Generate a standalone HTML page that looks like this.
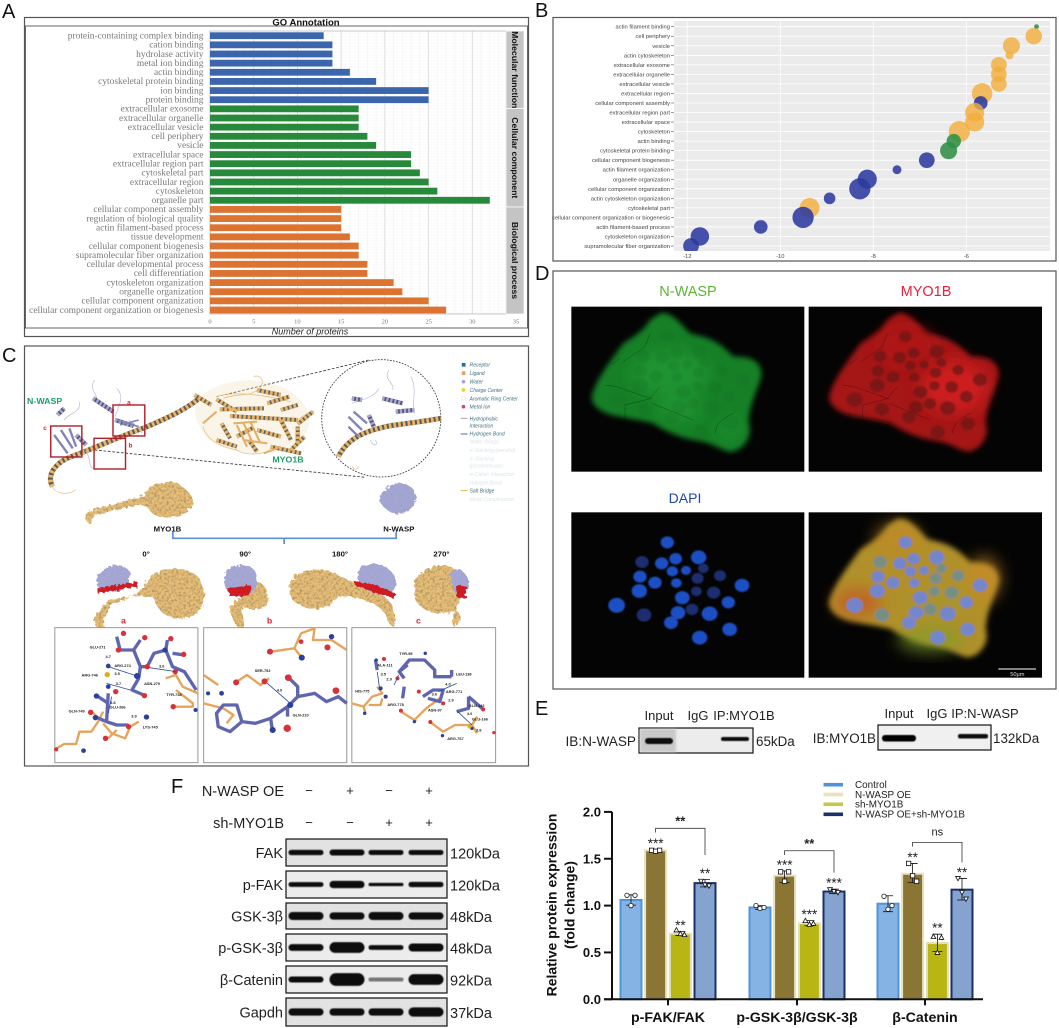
<!DOCTYPE html>
<html lang="en">
<head>
<meta charset="utf-8">
<title>MYO1B and N-WASP figure</title>
<style>
html,body{margin:0;padding:0;background:#fff;}
body{width:1059px;height:1028px;overflow:hidden;}
svg{display:block;font-family:"Liberation Sans",sans-serif;}
.serif{font-family:"Liberation Serif",serif;}
</style>
</head>
<body>
<svg id="fig" xmlns="http://www.w3.org/2000/svg" width="1059" height="1028" viewBox="0 0 1059 1028">
<defs>
<filter id="blur1" x="-20%" y="-60%" width="140%" height="220%"><feGaussianBlur stdDeviation="1"/></filter>
<filter id="blur05" x="-20%" y="-60%" width="140%" height="220%"><feGaussianBlur stdDeviation="0.6"/></filter>
<filter id="blurn" x="-30%" y="-30%" width="160%" height="160%"><feGaussianBlur stdDeviation="2.4"/></filter>
<filter id="blur6" x="-20%" y="-20%" width="140%" height="140%"><feGaussianBlur stdDeviation="5"/></filter>
<filter id="blur8" x="-20%" y="-20%" width="140%" height="140%"><feGaussianBlur stdDeviation="8"/></filter>
<filter id="blur18" x="-40%" y="-40%" width="180%" height="180%"><feGaussianBlur stdDeviation="24"/></filter>
<filter id="rough" x="-10%" y="-10%" width="120%" height="120%"><feTurbulence type="fractalNoise" baseFrequency="0.09" numOctaves="2" seed="4" result="n"/><feDisplacementMap in="SourceGraphic" in2="n" scale="16"/></filter>
<filter id="surf" x="-10%" y="-10%" width="120%" height="120%">
  <feTurbulence type="fractalNoise" baseFrequency="0.09" numOctaves="2" seed="4" result="n"/>
  <feDisplacementMap in="SourceGraphic" in2="n" scale="16" result="d"/>
  <feTurbulence type="fractalNoise" baseFrequency="0.14" numOctaves="2" seed="9" result="t"/>
  <feColorMatrix in="t" type="matrix" values="0 0 0 0 .42  0 0 0 0 .32  0 0 0 0 .14  3 0 0 0 -1.25" result="dk"/>
  <feComposite in="dk" in2="d" operator="in" result="tex"/>
  <feMerge><feMergeNode in="d"/><feMergeNode in="tex"/></feMerge>
</filter>
<filter id="surf2" x="-10%" y="-10%" width="120%" height="120%">
  <feTurbulence type="fractalNoise" baseFrequency="0.09" numOctaves="2" seed="4" result="n"/>
  <feDisplacementMap in="SourceGraphic" in2="n" scale="16" result="d"/>
  <feTurbulence type="fractalNoise" baseFrequency="0.14" numOctaves="2" seed="9" result="t"/>
  <feColorMatrix in="t" type="matrix" values="0 0 0 0 .36  0 0 0 0 .36  0 0 0 0 .58  3 0 0 0 -1.35" result="dk"/>
  <feComposite in="dk" in2="d" operator="in" result="tex"/>
  <feMerge><feMergeNode in="d"/><feMergeNode in="tex"/></feMerge>
</filter>
<clipPath id="clip-b"><rect x="674" y="21" width="376" height="230"/></clipPath>
<clipPath id="clip-tl"><rect x="34" y="50" width="699" height="495"/></clipPath>
<clipPath id="clip-tr"><rect x="746" y="50" width="700" height="495"/></clipPath>
<clipPath id="clip-bl"><rect x="34" y="667" width="699" height="496"/></clipPath>
<clipPath id="clip-br"><rect x="746" y="667" width="700" height="496"/></clipPath>
</defs>

<!-- Panel letters -->
<g font-size="20" fill="#111">
<text x="2" y="18">A</text>
<text x="535" y="17">B</text>
<text x="2" y="362">C</text>
<text x="535" y="280">D</text>
<text x="535" y="715">E</text>
<text x="171" y="793">F</text>
</g>

<!-- Panel A frame -->
<g id="panel-a">
<rect x="24.5" y="17.5" width="504" height="319" fill="#fff" stroke="#555" stroke-width="1.2"/>
<rect x="25.5" y="26" width="502" height="302" fill="#fff" stroke="#666" stroke-width="1"/>
<text x="306" y="25.5" font-size="9.5" font-weight="bold" text-anchor="middle" fill="#111">GO Annotation</text>
<text x="310" y="334.5" font-size="9" font-style="italic" text-anchor="middle" fill="#222">Number of proteins</text>
</g>

<!-- Panel B frame -->
<g id="panel-b">
<rect x="553" y="17.5" width="503" height="243.5" fill="#fff" stroke="#555" stroke-width="1.2"/>
<rect x="674" y="21" width="376" height="230" fill="#ebebeb"/>
</g>

<!-- Panel C -->
<g>
<rect x="24.5" y="346" width="504" height="420" fill="#fff" stroke="#555" stroke-width="1.2"/>
<g transform="translate(0,340) scale(.3383,.3333)">
  <path d="M640,170 L1090,60 M280,330 L1080,412" fill="none" stroke="#333" stroke-width="2.5" stroke-dasharray="8 5"/>
  <circle cx="1127" cy="235" r="176" fill="#fff" stroke="#333" stroke-width="2.5" stroke-dasharray="5 4"/>
  <path d="M590,170 C650,120 760,100 850,150 C930,200 940,270 860,320 C780,360 660,340 610,290 C570,240 570,200 590,170Z" fill="#f3dcb4" opacity=".3"/>
  <g fill="none" stroke="#e5b878" stroke-width="2">
    <path d="M600,260 C610,300 650,320 700,330 C720,345 760,345 790,335"/>
    <path d="M750,110 C770,100 790,130 760,150 C740,170 700,160 660,175"/>
    <path d="M640,170 C700,150 800,170 860,185"/>
    <path d="M155,440 C165,465 210,465 225,448"/>
    <path d="M880,240 C900,225 920,210 930,215"/>
    <path d="M1040,378 C1050,395 1060,385 1058,378"/>
  </g>
  <g fill="none" stroke="#5e5a52" stroke-width="15">
    <path d="M155,440 C135,400 170,365 210,350 C280,325 340,295 430,262 C480,240 540,215 585,178"/>
    <path d="M1000,350 C1030,290 1090,270 1150,258 C1200,250 1250,245 1303,235" />
  </g>
  <g fill="none" stroke="#e9b56a" stroke-width="15" stroke-dasharray="8 6">
    <path d="M155,440 C135,400 170,365 210,350 C280,325 340,295 430,262 C480,240 540,215 585,178"/>
    <path d="M1000,350 C1030,290 1090,270 1150,258 C1200,250 1250,245 1303,235" />
  </g>
  <g fill="none" stroke="#686255" stroke-width="12">
    <path d="M575,165 L625,195 M640,178 L700,215 M760,150 L830,165 M650,208 L780,205 M680,228 L880,240 M830,240 L860,300 M700,290 L750,262 M800,320 L890,340 M880,310 L880,260 M880,252 L925,215 M655,250 L680,295 M735,300 L760,335 M790,190 L855,170 M640,300 L700,320 M760,270 L830,290 M830,210 L880,195 M860,330 L900,290"/>
  </g>
  <g fill="none" stroke="#e7b46c" stroke-width="12" stroke-dasharray="8 5">
    <path d="M575,165 L625,195 M640,178 L700,215 M760,150 L830,165 M650,208 L780,205 M680,228 L880,240 M830,240 L860,300 M700,290 L750,262 M800,320 L890,340 M880,310 L880,260 M880,252 L925,215 M655,250 L680,295 M735,300 L760,335 M790,190 L855,170 M640,300 L700,320 M760,270 L830,290 M830,210 L880,195 M860,330 L900,290"/>
  </g>
  <g fill="none" stroke="#e2ae62" stroke-width="6">
    <path d="M600,250 L640,215 M690,250 L760,245 M720,300 L790,310 M780,340 L830,320 M700,255 L730,320 M720,250 L750,315 M740,245 L770,310"/>
  </g>
  <g fill="none" stroke="#b6b9d8" stroke-width="2">
    <path d="M280,120 C260,150 290,160 285,180 M345,145 C370,170 350,200 340,230 M235,185 C240,220 200,220 190,240 M380,240 C400,250 410,270 420,280 M250,330 C270,350 260,380 275,385"/>
    <path d="M1150,90 C1130,120 1170,130 1160,150 M1215,110 C1235,150 1215,190 1225,220 M1120,145 C1110,170 1070,180 1040,190 M1110,300 C1120,320 1100,320 1095,300"/>
  </g>
  <g fill="none" stroke="#53536f" stroke-width="13">
    <path d="M275,175 L335,215 M340,240 L395,258 M170,225 L190,205 M225,285 L255,315 M1040,175 L1070,180 M1130,175 L1190,190 M1170,215 L1225,210 M1090,225 L1105,260"/>
  </g>
  <g fill="none" stroke="#a6a8d2" stroke-width="13" stroke-dasharray="7 5">
    <path d="M275,175 L335,215 M340,240 L395,258 M170,225 L190,205 M225,285 L255,315 M1040,175 L1070,180 M1130,175 L1190,190 M1170,215 L1225,210 M1090,225 L1105,260"/>
  </g>
  <g fill="none" stroke="#8284b8" stroke-width="7">
    <path d="M160,285 L200,340 M180,270 L215,325 M205,265 L225,320 M1030,230 L1070,270 M1045,215 L1085,250 M1030,260 L1060,290"/>
    <path d="M345,240 L410,260 M355,255 L410,240" stroke-width="5"/>
  </g>
  <g fill="none" stroke="#b11d2a" stroke-width="4.2">
    <rect x="334" y="195" width="94" height="93"/>
    <rect x="278" y="295" width="93" height="92"/>
    <rect x="150" y="258" width="92" height="93"/>
  </g>
  <g fill="#e8202a" font-size="19" font-weight="bold">
    <text x="376" y="194">a</text>
    <text x="380" y="322">b</text>
    <text x="128" y="270">c</text>
  </g>
  <text x="80" y="192" fill="#1f9e6c" font-size="26" font-weight="bold">N-WASP</text>
  <text x="805" y="368" fill="#1f9e6c" font-size="26" font-weight="bold">MYO1B</text>

  <!-- Interaction legend -->
  <g font-size="15" font-style="italic" fill="#3e6f80">
    <rect x="1365" y="69" width="11" height="11" fill="#1f6fa0"/><text x="1388" y="80">Receptor</text>
    <rect x="1365" y="94" width="11" height="11" fill="#e8a060"/><text x="1388" y="105">Ligand</text>
    <circle cx="1370" cy="125" r="5.5" fill="#a8a4d4"/><text x="1388" y="131">Water</text>
    <circle cx="1370" cy="150" r="5.5" fill="#e2d820"/><text x="1388" y="156">Charge Center</text>
    <circle cx="1370" cy="175" r="5.5" fill="#fff" stroke="#ccc"/><text x="1388" y="181">Aromatic Ring Center</text>
    <circle cx="1370" cy="200" r="5.5" fill="#d0408a"/><text x="1388" y="206">Metal Ion</text>
    <line x1="1362" x2="1382" y1="235" y2="235" stroke="#9a9a9a" stroke-width="2.5"/>
    <text x="1388" y="241">Hydrophobic</text><text x="1388" y="262">Interaction</text>
    <line x1="1362" x2="1382" y1="282" y2="282" stroke="#2a4aa0" stroke-width="2.5"/>
    <text x="1388" y="287">Hydrogen Bond</text>
    <g fill="#dbe6ea">
      <text x="1388" y="311">Water Bridge</text>
      <text x="1388" y="336">π-Stacking (parallel)</text>
      <text x="1388" y="361">π-Stacking</text>
      <text x="1388" y="383">(perpendicular)</text>
      <text x="1388" y="408">π-Cation Interaction</text>
      <text x="1388" y="433">Halogen Bond</text>
      <text x="1388" y="483">Metal Complexation</text>
    </g>
    <line x1="1362" x2="1382" y1="452" y2="452" stroke="#d8b020" stroke-width="2.5"/>
    <text x="1388" y="458">Salt Bridge</text>
  </g>

  <!-- Surfaces -->
  <g>
    <path d="M265,552 C240,530 250,515 290,505 C340,490 390,480 425,465 C440,430 490,420 525,430 C570,460 585,490 560,505 C530,535 480,540 450,520 C435,495 420,490 390,500 C340,510 295,520 275,530 Z" fill="#e8bd76" filter="url(#surf)"/>
    <path d="M1125,465 C1150,420 1210,420 1225,455 C1245,490 1200,530 1165,520 C1140,510 1115,490 1125,465Z" fill="#a3a5d3" filter="url(#surf2)"/>
  </g>
  <g font-size="23" font-weight="bold" fill="#111" text-anchor="middle">
    <text x="495" y="574">MYO1B</text>
    <text x="1179" y="574">N-WASP</text>
  </g>
  <path d="M511,575 V595 H1171 V575 M840,595 V612" fill="none" stroke="#5b90d2" stroke-width="5"/>
  <g font-size="23" font-weight="bold" fill="#111" text-anchor="middle">
    <text x="432" y="650">0°</text>
    <text x="725" y="650">90°</text>
    <text x="1005" y="650">180°</text>
    <text x="1305" y="650">270°</text>
  </g>
  <!-- Rotated complexes: y coordinates in same zoom frame -->
  <g>
      <path d="M430,730 C460,680 540,670 585,710 C620,760 600,810 570,825 C520,850 470,830 455,775 C420,760 380,770 330,780 C310,790 290,810 280,830 C270,860 300,880 315,870 C300,850 305,830 325,795 C370,775 410,770 430,730Z" fill="#e8bd76" filter="url(#surf)"/>
      <path d="M285,720 C300,670 370,660 385,700 C385,730 375,760 330,755 C300,755 285,745 285,720Z" fill="#a5a7d6" filter="url(#surf2)"/>
      <path d="M288,745 L405,725 L405,740 L288,760Z" fill="#cf1c24" filter="url(#rough)"/>
      <path d="M745,740 C770,710 800,750 790,790 C770,815 740,810 720,800 C710,810 720,840 722,870 C700,870 680,830 680,800 Z" fill="#e8bd76" filter="url(#surf)"/>
      <path d="M665,705 C680,670 750,660 760,710 C765,745 750,770 700,770 C670,765 660,740 665,705Z" fill="#a5a7d6" filter="url(#surf2)"/>
      <path d="M672,745 L745,735 L738,765 L680,770Z" fill="#cf1c24" filter="url(#rough)"/>
      <path d="M855,735 C880,680 960,680 1000,705 C1030,725 1060,730 1100,750 C1150,770 1175,800 1165,860 C1140,855 1150,810 1100,790 C1060,770 1030,770 1000,770 C960,825 890,810 860,775Z" fill="#e8bd76" filter="url(#surf)"/>
      <path d="M1060,690 C1090,650 1165,680 1170,720 C1175,750 1150,770 1110,760 C1070,750 1050,720 1060,690Z" fill="#a5a7d6" filter="url(#surf2)"/>
      <path d="M1045,722 L1110,735 L1170,760 L1165,775 L1100,755 L1050,735Z" fill="#cf1c24" filter="url(#rough)"/>
      <path d="M1225,730 C1240,680 1320,660 1345,690 C1365,740 1370,790 1340,815 C1290,830 1240,810 1225,775Z M1345,810 C1370,820 1360,850 1340,860 C1340,840 1340,830 1345,810Z" fill="#e8bd76" filter="url(#surf)"/>
      <path d="M1330,700 C1350,670 1385,700 1385,730 C1385,760 1360,770 1340,750Z" fill="#a5a7d6" filter="url(#surf2)"/>
      <path d="M1345,735 L1380,740 L1375,775 L1350,770Z" fill="#cf1c24" filter="url(#rough)"/>
  </g>
</g>
<g transform="translate(0,590) scale(.3383,.3333)">
  <g fill="#e8202a" font-size="26" font-weight="bold" text-anchor="middle">
    <text x="365" y="100">a</text>
    <text x="797" y="100">b</text>
    <text x="1237" y="100">c</text>
  </g>
  <g fill="#fff" stroke="#999" stroke-width="3">
    <rect x="162" y="113" width="423" height="405"/>
    <rect x="602" y="113" width="423" height="405"/>
    <rect x="1040" y="113" width="425" height="405"/>
  </g>
  <g fill="none" stroke="#e6a35a" stroke-width="7" stroke-linejoin="round">
    <path d="M162,478 L190,462 L225,462 L235,425 L270,425 L290,395 L305,365 M270,365 L305,395 M305,400 L330,430 L370,445 L385,410 L410,395 M320,445 L345,420"/>
    <path d="M585,310 L540,290 L520,255 L490,265 M520,300 L570,340 L570,350 L515,350"/>
    <path d="M602,255 L645,285 M602,340 L660,355 L690,375 L670,400 M800,185 L870,175 L890,130 L930,115 L925,150 L980,150 M870,175 L890,200 M980,150 L1025,180 M700,275 L730,255 L770,285 L795,265"/>
    <path d="M1040,340 L1075,350 L1100,320 L1130,310 L1115,290 M1130,325 L1125,345 L1090,345 M1075,350 L1080,370 M1185,365 L1225,390 L1260,355 L1300,325 M1225,390 L1230,395 M1270,395 L1310,425 L1345,405 L1395,405 L1410,430 M1395,405 L1410,380"/>
  </g>
  <g fill="none" stroke="#5f66ae" stroke-width="10" stroke-linejoin="round">
    <path d="M345,140 L355,180 L395,180 L415,150 M395,180 L415,230 L410,265 L390,300 L425,315 M415,230 L435,230 L455,190 L490,180 L510,230 L545,245 L580,300 M490,180 L495,150 M510,190 L545,195"/>
    <path d="M320,310 L315,395 L345,405 L380,405 M290,320 L320,340 M280,380 L315,395"/>
    <path d="M660,345 L700,345 L715,395 L680,425 L645,410 L640,370Z M715,395 L755,400 L800,385 L850,350 L880,320 L930,310 L965,335 L1000,320 L1025,340 M850,380 L850,350 M800,385 L805,420 M880,320 L880,290 L855,265"/>
    <path d="M1110,210 L1115,240 M1180,245 L1210,210 L1255,210 L1285,240 L1285,260 L1335,260 M1195,265 L1180,245 L1205,225 M1195,290 L1190,325 M1250,320 L1280,300 L1310,300 L1300,335 L1265,325 M1335,260 L1335,240 M1385,320 L1385,355 L1350,365 M1385,320 L1425,355"/>
  </g>
  <g fill="#d8313a">
    <circle cx="365" cy="130" r="8"/><circle cx="428" cy="143" r="8"/><circle cx="350" cy="180" r="8"/><circle cx="505" cy="146" r="8"/><circle cx="543" cy="193" r="8"/><circle cx="435" cy="230" r="8"/><circle cx="427" cy="317" r="8"/><circle cx="342" cy="305" r="8"/><circle cx="268" cy="367" r="8"/><circle cx="380" cy="410" r="8"/><circle cx="312" cy="445" r="8"/><circle cx="512" cy="350" r="8"/><circle cx="166" cy="478" r="6"/><circle cx="518" cy="245" r="8"/>
    <circle cx="798" cy="185" r="9"/><circle cx="968" cy="172" r="9"/><circle cx="890" cy="155" r="7"/><circle cx="698" cy="277" r="9"/><circle cx="782" cy="274" r="9"/><circle cx="852" cy="263" r="10"/><circle cx="993" cy="302" r="10"/><circle cx="849" cy="415" r="11"/>
    <circle cx="1135" cy="207" r="6"/><circle cx="1175" cy="265" r="6"/><circle cx="1238" cy="305" r="6"/><circle cx="1428" cy="358" r="6"/><circle cx="1185" cy="362" r="6"/><circle cx="1272" cy="396" r="6"/><circle cx="1310" cy="340" r="6"/><circle cx="1460" cy="428" r="5"/>
  </g>
  <g fill="#2a3f9e">
    <circle cx="320" cy="228" r="7"/><circle cx="320" cy="290" r="7"/><circle cx="405" cy="258" r="9"/><circle cx="285" cy="318" r="8"/><circle cx="282" cy="383" r="8"/><circle cx="433" cy="381" r="8"/><circle cx="488" cy="180" r="8"/><circle cx="247" cy="482" r="7"/><circle cx="578" cy="360" r="6"/>
    <circle cx="892" cy="203" r="9"/><circle cx="980" cy="140" r="8"/><circle cx="858" cy="345" r="9"/><circle cx="806" cy="420" r="9"/><circle cx="655" cy="310" r="7"/><circle cx="615" cy="310" r="6"/>
    <circle cx="1125" cy="295" r="6"/><circle cx="1140" cy="320" r="6"/><circle cx="1078" cy="370" r="5"/><circle cx="1112" cy="210" r="5"/><circle cx="1225" cy="395" r="5"/><circle cx="1308" cy="437" r="5"/><circle cx="1395" cy="415" r="5"/><circle cx="1257" cy="190" r="5"/>
  </g>
  <g fill="none" stroke="#2a4aa0" stroke-width="2.4">
    <path d="M320,230 L405,258 M315,280 L385,300 M320,370 L330,320 M435,232 L520,245 M790,280 L858,340 M1115,245 L1122,295 M1165,285 L1178,255 M1295,305 L1350,280 M1350,362 L1395,405"/>
  </g>
  <circle cx="317" cy="254" r="8" fill="#d4b21c"/>
  <circle cx="1388" cy="410" r="6" fill="#d4b21c"/>
  <g font-size="11.5" font-weight="bold" fill="#222">
    <text x="265" y="176">GLU-271</text>
    <text x="312" y="204">4.7</text>
    <text x="338" y="231">ARG-274</text>
    <text x="338" y="255">3.5</text>
    <text x="241" y="260">ARG-746</text>
    <text x="342" y="285">3.7</text>
    <text x="426" y="285">ASN-270</text>
    <text x="470" y="233">3.6</text>
    <text x="491" y="318">TYR-738</text>
    <text x="326" y="342">3.6</text>
    <text x="324" y="356">GLU-266</text>
    <text x="203" y="367">GLN-749</text>
    <text x="388" y="382">3.9</text>
    <text x="422" y="416">LYS-745</text>
    <text x="753" y="246">SER-752</text>
    <text x="818" y="304">4.0</text>
    <text x="865" y="379">GLN-210</text>
    <text x="1180" y="195">TYR-95</text>
    <text x="1115" y="229">ALA-111</text>
    <text x="1125" y="256">3.5</text>
    <text x="1142" y="272">2.9</text>
    <text x="1348" y="257">LEU-138</text>
    <text x="1050" y="308">HIS-775</text>
    <text x="1316" y="286">4.0</text>
    <text x="1318" y="309">ARG-771</text>
    <text x="1276" y="316">3.6</text>
    <text x="1325" y="335">2.9</text>
    <text x="1145" y="348">ARG-778</text>
    <text x="1265" y="365">ASN-97</text>
    <text x="1385" y="351">GLN-142</text>
    <text x="1380" y="375">4.0</text>
    <text x="1395" y="391">GLU-166</text>
    <text x="1407" y="425">3.8</text>
    <text x="1322" y="450">ARG-767</text>
  </g>
</g>
</g>

<!-- Panel D -->
<g>
<rect x="553" y="271" width="503" height="418" fill="#fff" stroke="#555" stroke-width="1.2"/>
<text x="688" y="296" font-size="14.5" fill="#5cb531" text-anchor="middle">N-WASP</text>
<text x="926" y="296" font-size="14.5" fill="#e8203a" text-anchor="middle">MYO1B</text>
<text x="685" y="503" font-size="14" fill="#1f47b0" text-anchor="middle">DAPI</text>
<g id="micro" transform="translate(560,290) scale(.33333)"></g>
</g>

<!-- Panel E -->
<g font-size="13" fill="#222">
<text x="659" y="720" text-anchor="middle">Input</text>
<text x="698" y="720" text-anchor="middle">IgG</text>
<text x="744" y="720" text-anchor="middle">IP:MYO1B</text>
<text x="636" y="746" text-anchor="end" font-size="13.6">IB:N-WASP</text>
<text x="756" y="746" font-size="13.4">65kDa</text>
<text x="899" y="718" text-anchor="middle">Input</text>
<text x="937" y="718" text-anchor="middle">IgG</text>
<text x="985" y="718" text-anchor="middle">IP:N-WASP</text>
<text x="876" y="743" text-anchor="end" font-size="13.4">IB:MYO1B</text>
<text x="993" y="743" font-size="13.4">132kDa</text>
<rect x="639" y="728" width="114" height="25" fill="#ececec" stroke="#111" stroke-width="1.2"/>
<rect x="640" y="729" width="36" height="23" fill="#c9c9c9" filter="url(#blur1)"/>
<rect x="645" y="738" width="28" height="6" rx="3" fill="#0a0a0a" filter="url(#blur05)"/>
<rect x="721" y="737" width="28" height="4" rx="2" fill="#111" filter="url(#blur05)"/>
<rect x="878" y="725" width="113" height="25" fill="#f0f0f0" stroke="#111" stroke-width="1.2"/>
<rect x="882" y="735" width="34" height="6.5" rx="3" fill="#050505" filter="url(#blur05)"/>
<rect x="958" y="734" width="30" height="4.5" rx="2" fill="#0a0a0a" filter="url(#blur05)"/>
</g>

<!-- Panel F blots -->
<g id="blots">
<g font-size="14.5" fill="#222">
<text x="284" y="796" text-anchor="end">N-WASP OE</text>
<text x="284" y="828" text-anchor="end">sh-MYO1B</text>
</g>
</g>

<!-- Panel F chart -->
<g id="barchart"></g>

<script>
// Panel A data
var goCategories = ["protein-containing complex binding","cation binding","hydrolase activity","metal ion binding","actin binding","cytoskeletal protein binding","ion binding","protein binding","extracellular exosome","extracellular organelle","extracellular vesicle","cell periphery","vesicle","extracellular space","extracellular region part","cytoskeletal part","extracellular region","cytoskeleton","organelle part","cellular component assembly","regulation of biological quality","actin filament-based process","tissue development","cellular component biogenesis","supramolecular fiber organization","cellular developmental process","cell differentiation","cytoskeleton organization","organelle organization","cellular component organization","cellular component organization or biogenesis"];
var goValues = [13,14,14,14,16,19,25,25,17,17,17,18,19,23,23,24,25,26,32,15,15,15,16,17,17,18,18,21,22,25,27];
var goGroups = ["mf","mf","mf","mf","mf","mf","mf","mf","cc","cc","cc","cc","cc","cc","cc","cc","cc","cc","cc","bp","bp","bp","bp","bp","bp","bp","bp","bp","bp","bp","bp"];
var goTicks = [0,5,10,15,20,25,30,35];
var goStrips = ["Molecular function","Cellular component","Biological process"];

// Panel B data
var bubbleCategories = ["actin filament binding","cell periphery","vesicle","actin cytoskeleton","extracellular exosome","extracellular organelle","extracellular vesicle","extracellular region","cellular component assembly","extracellular region part","extracellular space","cytoskeleton","actin binding","cytoskeletal protein binding","cellular component biogenesis","actin filament organization","organelle organization","cellular component organization","actin cytoskeleton organization","cytoskeletal part","cellular component organization or biogenesis","actin filament-based process","cytoskeleton organization","supramolecular fiber organization"];
var bubbleX = [-4.49,-4.55,-5.03,-5.07,-5.30,-5.30,-5.30,-5.66,-5.69,-5.82,-5.82,-6.15,-6.27,-6.38,-6.85,-7.49,-8.13,-8.29,-8.94,-9.37,-9.51,-10.42,-11.73,-11.92];
var bubbleCount = [1.7,19.8,21.4,4.9,18.1,18.1,18.1,30.9,13.7,26.9,26.9,33,15.1,21.4,18.1,5.8,26.9,33,9.9,28.8,33,13.7,25,18.1];
var bubbleClass = ["mf","cc","cc","cc","cc","cc","cc","cc","bp","cc","cc","cc","mf","mf","bp","bp","bp","bp","bp","cc","bp","bp","bp","bp"];
var bubbleTicks = [-12,-10,-8,-6];

// Panel F blot data
var blotRows = ["FAK","p-FAK","GSK-3β","p-GSK-3β","β-Catenin","Gapdh"];
var blotKda = ["120kDa","120kDa","48kDa","48kDa","92kDa","37kDa"];
var bandStrength = [[16,18,15,15],[14,22,10,16],[24,22,24,22],[20,32,14,24],[18,38,12,32],[22,22,22,28]];
var nWaspSigns = ["−","+","−","+"];
var shSigns = ["−","−","+","+"];

// Panel F bar chart data
var barGroups = ["p-FAK/FAK","p-GSK-3β/GSK-3β","β-Catenin"];
var barSeries = ["Control","N-WASP OE","sh-MYO1B","N-WASP OE+sh-MYO1B"];
var barValues = [[1.06,1.59,0.70,1.24],[0.98,1.32,0.81,1.15],[1.02,1.34,0.60,1.17]];
var barUpper = [[1.115,1.60,0.725,1.28],[1.00,1.37,0.84,1.175],[1.105,1.45,0.695,1.29]];
var barLower = [[1.005,1.57,0.68,1.20],[0.96,1.245,0.785,1.13],[0.935,1.245,0.51,1.06]];
var barPoints = [[[1.11,1.00,1.11],[1.59,1.58,1.59],[0.74,0.70,0.69],[1.26,1.22,1.21]],[[1.00,0.97,0.98],[1.36,1.26,1.36],[0.84,0.80,0.81],[1.17,1.15,1.14]],[[1.10,0.96,1.00],[1.45,1.32,1.26],[0.67,0.50,0.66],[1.29,1.14,1.07]]];
var barStars = [["","***","**","**"],["","***","***","***"],["","**","**","**"]];
var bracketTop = [1.825,1.585,1.675];
var bracketLeft = [1.78,1.54,1.63];
var bracketRight = [1.54,1.35,1.46];
var bracketText = ["**","**","ns"];
var yTicks = [0,0.5,1,1.5,2];

var SVGNS = "http://www.w3.org/2000/svg";
var fig = document.getElementById("fig");
function mk(tag, attrs, parent, text){
  var e = document.createElementNS(SVGNS, tag);
  for (var k in attrs) e.setAttribute(k, attrs[k]);
  if (text !== undefined) e.textContent = text;
  (parent || fig).appendChild(e);
  return e;
}

/* ---------- Panel A ---------- */
var pa = document.getElementById("panel-a");
var goX = function(v){ return 210 + v * 8.743; };
var goY = function(i){ return 35.7 + i * (274.3 / 30); };
var goColor = {mf:"#3b66ae", cc:"#268a3a", bp:"#dd7331"};
var plotTop = 31, plotBot = 314;
for (var hy = plotTop; hy < plotBot; hy += 3) {
  var hl = mk("line",{x1:210,x2:506,y1:hy,y2:hy,stroke:"#f5f5f5","stroke-width":0.5},pa);
  
  
}
for (var v = 0; v <= 34; v++) {
  var gl = mk("line",{x1:goX(v),x2:goX(v),y1:plotTop,y2:plotBot,stroke:v%5===0?"#dcdcdc":"#f1f1f1","stroke-width":v%5===0?0.9:0.6},pa);
  
  
}
var edge = mk("rect",{x:210,y:plotTop,width:296,height:plotBot-plotTop,fill:"none",stroke:"#bbb","stroke-width":0.8},pa);


goCategories.forEach(function(c,i){
  var b = mk("rect",{x:goX(0),y:goY(i)-3.4,width:goX(goValues[i])-goX(0),height:6.8,fill:goColor[goGroups[i]]},pa);
  
  
  var t = mk("text",{x:203.5,y:goY(i)+2.8,"text-anchor":"end",class:"serif","font-size":9.45,fill:"#7a7a7a"},pa,c);
  
  
});
goTicks.forEach(function(tk){
  var t = mk("text",{x:goX(tk),y:323.5,"text-anchor":"middle",class:"serif","font-size":6.5,fill:"#777"},pa,tk);
  
  
});
var stripEdges = [31,108.5,207,314];
goStrips.forEach(function(s,i){
  var r = mk("rect",{x:506,y:stripEdges[i],width:18,height:stripEdges[i+1]-stripEdges[i],fill:"#c4c4c4",stroke:"#fff","stroke-width":0.7},pa);
  
  
  var my = (stripEdges[i]+stripEdges[i+1])/2;
  var t = mk("text",{x:515,y:my,transform:"rotate(90 515 "+my+")","text-anchor":"middle","dominant-baseline":"central","font-size":8.7,"font-weight":"bold",fill:"#111"},pa,s);
  
  
});

/* ---------- Panel B ---------- */
var pb = document.getElementById("panel-b");
var bX = function(v){ return 687.3 + (v + 12) * 46.5; };
var bY = function(i){ return 26.7 + i * (219.3 / 23); };
var bR = function(c){ return Math.sqrt(c) * 1.85; };
var bColor = {mf:"#2f8f45", cc:"#f2ae3c", bp:"#2c3a9f"};
bubbleCategories.forEach(function(c,i){
  var gh = mk("line",{x1:674,x2:1050,y1:bY(i),y2:bY(i),stroke:"#fff","stroke-width":0.8},pb);
  
  
  var tm = mk("line",{x1:671,x2:674,y1:bY(i),y2:bY(i),stroke:"#555","stroke-width":0.6},pb);
  
  
  var t = mk("text",{x:670,y:bY(i)+2,"text-anchor":"end","font-size":5.8,fill:"#444"},pb,c);
  
  
});
bubbleTicks.forEach(function(tk){
  var gv = mk("line",{x1:bX(tk),x2:bX(tk),y1:21,y2:251,stroke:"#fff","stroke-width":0.8},pb);
  
  
  var t = mk("text",{x:bX(tk),y:258,"text-anchor":"middle","font-size":5.8,fill:"#444"},pb,tk);
  
  
});
var bubbleLayer = mk("g",{"clip-path":"url(#clip-b)"},pb);


bubbleCategories.forEach(function(c,i){
  var p = mk("circle",{cx:bX(bubbleX[i]),cy:bY(i),r:bR(bubbleCount[i]),fill:bColor[bubbleClass[i]],"fill-opacity":bubbleClass[i]==="cc"?0.8:0.88},bubbleLayer);
  
  
});

/* ---------- Panel D micrographs ---------- */
var micro = document.getElementById("micro");
var colonyPath = "M300,70 C325,65 345,80 390,130 C430,140 470,145 520,200 C560,200 600,205 605,250 C600,290 570,330 565,400 C580,440 545,485 510,485 C480,480 470,460 400,450 C350,440 310,420 280,400 C240,390 200,385 180,380 C140,375 95,355 95,320 C105,280 130,240 190,160 C220,140 250,125 270,90 Z";
var nucleiX = [322,246,305,347,416,430,240,337,378,285,413,480,349,546,238,367,409,461,505,170,252,396,354,449,333,509,419];
var nucleiY = [757,816,820,806,802,835,860,844,841,878,865,857,879,886,903,923,904,908,937,946,975,958,968,971,998,1018,1043];
var nucleiR = [20,20,20,19,23,16,20,17,15,20,18,18,16,22,23,22,16,20,20,25,22,19,22,24,21,22,23];
var nucleiDim = [0,1,0,0,0,1,0,0,0,0,1,1,0,0,0,0,1,1,0,0,1,1,0,0,0,0,0];

[[34,50,699,495,"tl"],[746,50,700,495,"tr"],[34,667,699,496,"bl"],[746,667,700,496,"br"]].forEach(function(a){
  var r = mk("rect",{x:a[0],y:a[1],width:a[2],height:a[3],fill:"#040404"},micro);
  
  
});

function colony(dx,dy,clip,base,extra,borderOpacity){
  var g = mk("g",{"clip-path":"url(#"+clip+")"},micro);
  
  
  var inner = mk("g",{transform:"translate("+dx+","+dy+")"},g);
  var body = mk("path",{d:colonyPath,fill:base,filter:"url(#blur8)"},inner);
  
  
  extra.forEach(function(e){
    var x = mk("ellipse",{cx:e[0],cy:e[1],rx:e[2],ry:e[3],fill:e[4],filter:"url(#blur18)",opacity:e[5]},inner);
    
    
  });
  var cr = mk("path",{d:"M135,285 L170,290 L270,325 L300,290 M275,325 L195,345 L195,395 M275,340 L400,390 M270,130 L255,170 L190,215 M465,430 C470,400 480,390 520,370 M180,205 L155,225",fill:"none",stroke:"#000","stroke-width":1.4,opacity:borderOpacity},inner);
  
  
  return inner;
}
colony(0,0,"clip-tl","#168027",[[330,250,120,70,"#27a03a",.6],[360,350,70,40,"#27a03a",.6],[510,420,40,40,"#1c8f30",.7]],.45);
colony(712,0,"clip-tr","#a51616",[[470,290,100,80,"#de2020",.7],[330,170,90,60,"#b51818",.6]],.45);
var brG = mk("g",{transform:"translate(0,617)"},micro);


var mergedBody = mk("path",{d:colonyPath,fill:"#b0902c",filter:"url(#blur8)",transform:"translate(712,0)"},brG);


[[892,320,70,40,"#c85020",.7],[1012,130,70,50,"#c48828",.6],[1272,250,50,70,"#cc8a28",.65],[1112,430,100,40,"#7f9e2a",.7],[1140,320,90,50,"#a09a32",.5]].forEach(function(e){
  var x = mk("ellipse",{cx:e[0],cy:e[1],rx:e[2],ry:e[3],fill:e[4],filter:"url(#blur18)",opacity:e[5]},brG);
  
  
});

nucleiX.forEach(function(nx,i){
  var ny = nucleiY[i], nr = nucleiR[i], dim = nucleiDim[i];
  var b = mk("ellipse",{cx:nx,cy:ny,rx:nr,ry:nr*.9,fill:dim?"#1d2f70":"#1f4fc4",filter:"url(#blurn)"},micro);
  
  
  var rd = mk("ellipse",{cx:nx+714,cy:ny-617,rx:nr*.95,ry:nr*.85,fill:"#701616",opacity:.75,filter:"url(#blurn)"},micro);
  
  
  var gn = mk("ellipse",{cx:nx+3,cy:ny-617,rx:nr,ry:nr*.9,fill:"#137025",opacity:.25,filter:"url(#blurn)"},micro);
  
  
  var mg = mk("ellipse",{cx:nx+714,cy:ny,rx:nr,ry:nr*.9,fill:dim?"#6f9088":"#6d86dc",stroke:"#a77bd0","stroke-width":2,opacity:.9,filter:"url(#blurn)"},micro);
  
  
});
var sb = mk("line",{x1:1315,x2:1428,y1:1137,y2:1137,stroke:"#fff","stroke-width":3},micro);


var sbt = mk("text",{x:1372,y:1158,"text-anchor":"middle","font-size":17,fill:"#ddd"},micro,"50μm");



/* ---------- Panel F blots ---------- */
var blots = document.getElementById("blots");
var laneX = [306,347,386,426];
var rowTop = [839,871,903,934,966,998];
var rowH = [27,27,26,27,27,28];
[[nWaspSigns,790],[shSigns,822]].forEach(function(s){
  s[0].forEach(function(sym,i){
    var t = mk("text",{x:laneX[i]+3,y:s[1]+5,"text-anchor":"middle","font-size":13,fill:"#222"},blots,sym);
    
    
  });
});
blotRows.forEach(function(name,i){
  var bg = mk("rect",{x:286,y:rowTop[i],width:161,height:rowH[i],fill:i<1||i===2||i===5?"#e2e2e2":"#ececec",stroke:"#111","stroke-width":1.2},blots);
  
  
  var t = mk("text",{x:283,y:rowTop[i]+rowH[i]/2+5.5,"text-anchor":"end","font-size":14.5,fill:"#222"},blots,name);
  
  
  var k = mk("text",{x:450,y:rowTop[i]+rowH[i]/2+6,"font-size":14.5,fill:"#222"},blots,blotKda[i]);
  
  
  bandStrength[i].forEach(function(h,j){
    var bh = h/3;
    var light = (i===4 && j===2);
    var bd = mk("rect",{x:laneX[j]-17.5,y:rowTop[i]+rowH[i]/2-bh/2,width:35,height:bh,rx:bh/2,fill:light?"#777":"#0b0b0b",filter:"url(#blur05)"},blots);
    
    
  });
});

/* ---------- Panel F bar chart ---------- */
var bc = document.getElementById("barchart");
var yS = function(v){ return 999.3 - v * 93.7; };
var groupX = [668,797,925];
var laneOffset = [-37,-12.4,12.4,37];
var fills = ["#85b4e4","#8b7535","#b9b514","#84a3cf"];
var strokes = ["#4f94d8","#e8e2bf","#e3e0b5","#1c2f68"];
var swatch = ["#4f94d8","#e8e2bf","#c6c64a","#1c2f68"];
var pointShape = [
  function(x,y,g){ return mk("circle",{cx:x,cy:y,r:2.2,fill:"#fff",stroke:"#111","stroke-width":.8},g); },
  function(x,y,g){ return mk("rect",{x:x-2.2,y:y-2.2,width:4.4,height:4.4,fill:"#fff",stroke:"#111","stroke-width":.8},g); },
  function(x,y,g){ return mk("path",{d:"M"+x+","+(y-2.4)+"l2.4,4.4h-4.8z",fill:"#fff",stroke:"#111","stroke-width":.8},g); },
  function(x,y,g){ return mk("path",{d:"M"+x+","+(y+2.4)+"l2.4,-4.4h-4.8z",fill:"#fff",stroke:"#111","stroke-width":.8},g); }
];
var jitter = [-4,0,4];
barGroups.forEach(function(gname,g){
  barValues[g].forEach(function(val,s){
    var cx = groupX[g]+laneOffset[s];
    var r = mk("rect",{x:cx-10.5,y:yS(val),width:21,height:yS(0)-yS(val),fill:fills[s],stroke:strokes[s],"stroke-width":2},bc);
    
    
    var w = mk("path",{d:"M"+cx+","+yS(barUpper[g][s])+"V"+yS(barLower[g][s])+"M"+(cx-5)+","+yS(barUpper[g][s])+"h10M"+(cx-5)+","+yS(barLower[g][s])+"h10",stroke:"#111","stroke-width":.8,fill:"none"},bc);
    
    
    barPoints[g][s].forEach(function(pv,k){
      var pt = pointShape[s](cx+jitter[k],yS(pv),bc);
      
      
    });
    if (barStars[g][s]) {
      var st = mk("text",{x:cx,y:yS(barUpper[g][s])-1.5,"text-anchor":"middle","font-size":13.5,fill:"#222"},bc,barStars[g][s]);
      
      
    }
  });
  var xl = groupX[g]+laneOffset[1], xr = groupX[g]+laneOffset[3];
  var br = mk("path",{d:"M"+xl+","+yS(bracketLeft[g])+"V"+yS(bracketTop[g])+"H"+xr+"V"+yS(bracketRight[g]),fill:"none",stroke:"#333","stroke-width":.8},bc);
  
  
  var bt = mk("text",{x:(xl+xr)/2,y:yS(bracketTop[g])-(bracketText[g]==="ns"?7:3),"text-anchor":"middle","font-size":bracketText[g]==="ns"?11:13,"font-weight":bracketText[g]==="ns"?"normal":"bold",fill:"#222"},bc,bracketText[g]);
  
  
  var tk = mk("line",{x1:groupX[g],x2:groupX[g],y1:yS(0),y2:yS(0)+6,stroke:"#111","stroke-width":2},bc);
  
  
  var gl2 = mk("text",{x:groupX[g],y:1022,"text-anchor":"middle","font-size":14.2,"font-weight":"bold",fill:"#111"},bc,gname);
  
  
});
var ax = mk("path",{d:"M612,"+yS(2)+"V"+yS(0)+"M604,"+yS(0)+"H983",fill:"none",stroke:"#111","stroke-width":2},bc);


yTicks.forEach(function(tv){
  var tm = mk("line",{x1:604,x2:612,y1:yS(tv),y2:yS(tv),stroke:"#111","stroke-width":2},bc);
  
  
  var tl = mk("text",{x:601,y:yS(tv)+4.5,"text-anchor":"end","font-size":13,"font-weight":"bold",fill:"#111"},bc,tv.toFixed(1));
  
  
});
var yt = mk("text",{transform:"translate(556.5,905) rotate(-90)","text-anchor":"middle","font-size":14,"font-weight":"bold",fill:"#111"},bc,"Relative protein expression");


var yt2 = mk("text",{transform:"translate(574.5,905) rotate(-90)","text-anchor":"middle","font-size":14,"font-weight":"bold",fill:"#111"},bc,"(fold change)");


var legendY = [784.7,794.5,804.3,814.3];
barSeries.forEach(function(s,i){
  var sw = mk("rect",{x:823.5,y:legendY[i]-1.8,width:19.5,height:3.6,fill:swatch[i]},bc);
  
  
  var t = mk("text",{x:855,y:legendY[i]+3.4,"font-size":9.9,fill:"#222"},bc,s);
  
  
});
</script>
</svg>
</body>
</html>
